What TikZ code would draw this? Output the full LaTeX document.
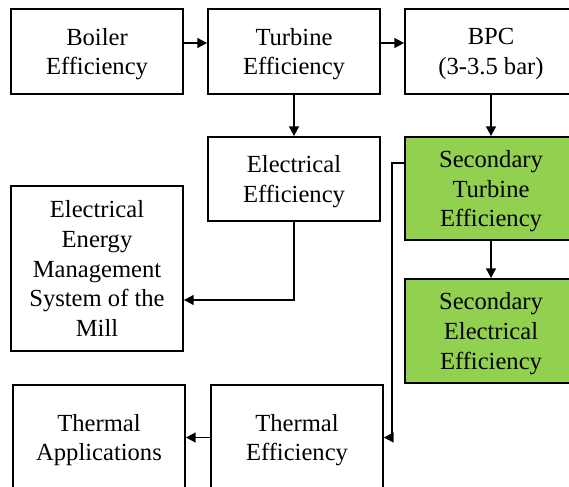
\documentclass[tikz,border=0pt]{standalone}
\usepackage{fontspec}
\setmainfont{Liberation Serif}
\usetikzlibrary{arrows.meta}
\definecolor{boxgreen}{RGB}{146,208,80}

\begin{document}
\begin{tikzpicture}[x=0.02cm,y=-0.02cm,
 block/.style={draw=black, line width=1pt, align=center, minimum width=3.44cm, inner sep=0pt, text depth=0pt, font=\fontsize{14}{17}\selectfont},
 greenblock/.style={block, fill=boxgreen},
 flow/.style={line width=1pt, -{Triangle[length=5.5pt,width=5.5pt]}}]
\useasboundingbox (0,0) rectangle (569,487);

% top row
\node[block, minimum height=1.7cm] (boiler) at (97,51.5) {Boiler\\Efficiency};
\node[block, minimum height=1.7cm] (turbine) at (294,51.5) {Turbine\\Efficiency};
\node[block, minimum height=1.7cm] (bpc) at (491,51.5) {BPC\\(3-3.5 bar)};

% middle
\node[block, minimum height=1.68cm] (elec) at (294,179) {Electrical\\Efficiency};
\node[greenblock, minimum height=2.06cm] (secturb) at (491,188.5) {Secondary\\Turbine\\Efficiency};
\node[block, minimum height=3.3cm] (ems) at (97,268.5) {Electrical\\Energy\\Management\\System of the\\Mill};
\node[greenblock, minimum height=2.08cm] (secelec) at (491,331) {Secondary\\Electrical\\Efficiency};

% bottom row
\node[block, minimum height=2.1cm] (thapp) at (99,437.5) {Thermal\\Applications};
\node[block, minimum height=2.1cm] (theff) at (297,437.5) {Thermal\\Efficiency};

\draw[flow] ([yshift=0.17cm]boiler.east) -- ([yshift=0.17cm]turbine.west);
\draw[flow] ([yshift=0.17cm]turbine.east) -- ([yshift=0.17cm]bpc.west);
\draw[flow] (turbine.south) -- (elec.north);
\draw[flow] (bpc.south) -- (secturb.north);
\draw[flow] (secturb.south) -- (secelec.north);
\draw[flow] (elec.south) |- ([yshift=-0.63cm]ems.east);
\draw[flow] ([yshift=0.51cm]secturb.west) -- ++(-12,0) |- (theff.east);
\draw[flow] (theff.west) -- (thapp.east);

\end{tikzpicture}
\end{document}
